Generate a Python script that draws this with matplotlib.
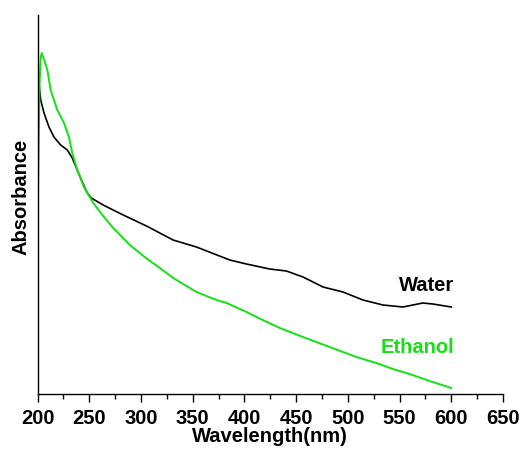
import matplotlib

matplotlib.use("Agg")
import matplotlib.pyplot as plt
from matplotlib.ticker import MultipleLocator

# UV-vis spectra (arbitrary absorbance units)
water_wl = [200, 201.4, 203.1, 206.3, 211.1, 215.9, 222.4, 228.8, 233.6, 238.4,
            243.3, 248.1, 252.0, 263.5, 282.9, 305.4, 331.1, 353.7, 385.9, 402.0,
            424.5, 440.6, 456.7, 476.0, 495.3, 514.6, 533.9, 553.2, 572.5, 582.2,
            600]
water_abs = [3.12, 3.10, 2.94, 2.81, 2.67, 2.57, 2.49, 2.44, 2.36, 2.24,
             2.12, 2.01, 1.96, 1.89, 1.79, 1.68, 1.54, 1.47, 1.34, 1.30,
             1.25, 1.23, 1.17, 1.07, 1.02, 0.94, 0.89, 0.87, 0.91, 0.90,
             0.87]

ethanol_wl = [200, 201, 202, 203, 204, 206.5, 209.5, 212.7, 219.1, 225.6,
              230.4, 233.6, 238.4, 244.9, 253.9, 263.5, 273.2, 289.3, 305.4, 318.3,
              331.1, 353.7, 373.0, 382.7, 402.0, 411.7, 434.2, 456.7, 482.4, 508.2,
              527.5, 543.6, 559.7, 579.0, 600]
ethanol_abs = [1.62, 2.40, 3.10, 3.35, 3.41, 3.34, 3.24, 3.04, 2.84, 2.71,
               2.57, 2.41, 2.24, 2.07, 1.91, 1.78, 1.66, 1.49, 1.355, 1.26,
               1.16, 1.02, 0.94, 0.91, 0.82, 0.77, 0.66, 0.57, 0.47, 0.37,
               0.31, 0.25, 0.20, 0.13, 0.06]

GREEN = "#14e014"
FS = 14.5

plt.rcParams["font.family"] = ["Liberation Sans", "DejaVu Sans"]
plt.rcParams["font.weight"] = "bold"

fig = plt.figure(figsize=(5.21, 4.49), dpi=100)
ax = fig.add_axes([0.072, 0.1225, 0.8935, 0.844])

ax.plot(water_wl, water_abs, color="black", lw=1.2)
ax.plot(ethanol_wl, ethanol_abs, color=GREEN, lw=1.4)

ax.text(576, 1.09, "Water", color="black", fontsize=FS, fontweight="bold",
        ha="center", va="center")
ax.text(567, 0.47, "Ethanol", color=GREEN, fontsize=FS, fontweight="bold",
        ha="center", va="center")

ax.set_xlim(200, 650)
ax.set_ylim(0, 3.79)
ax.xaxis.set_major_locator(MultipleLocator(50))
ax.xaxis.set_minor_locator(MultipleLocator(25))
ax.tick_params(axis="x", which="major", length=6, width=1, labelsize=FS, pad=5)
ax.tick_params(axis="x", which="minor", length=3.5, width=1)
for lab in ax.get_xticklabels():
    lab.set_fontweight("bold")
ax.set_yticks([])

for side in ("top", "right"):
    ax.spines[side].set_visible(False)
for side in ("left", "bottom"):
    ax.spines[side].set_linewidth(1)

ax.set_xlabel("Wavelength(nm)", fontsize=FS, fontweight="bold", labelpad=-1)
ax.set_ylabel("Absorbance", fontsize=FS, fontweight="bold")
ax.yaxis.set_label_coords(-0.016, 0.52)

fig.savefig("out.png", dpi=100)
